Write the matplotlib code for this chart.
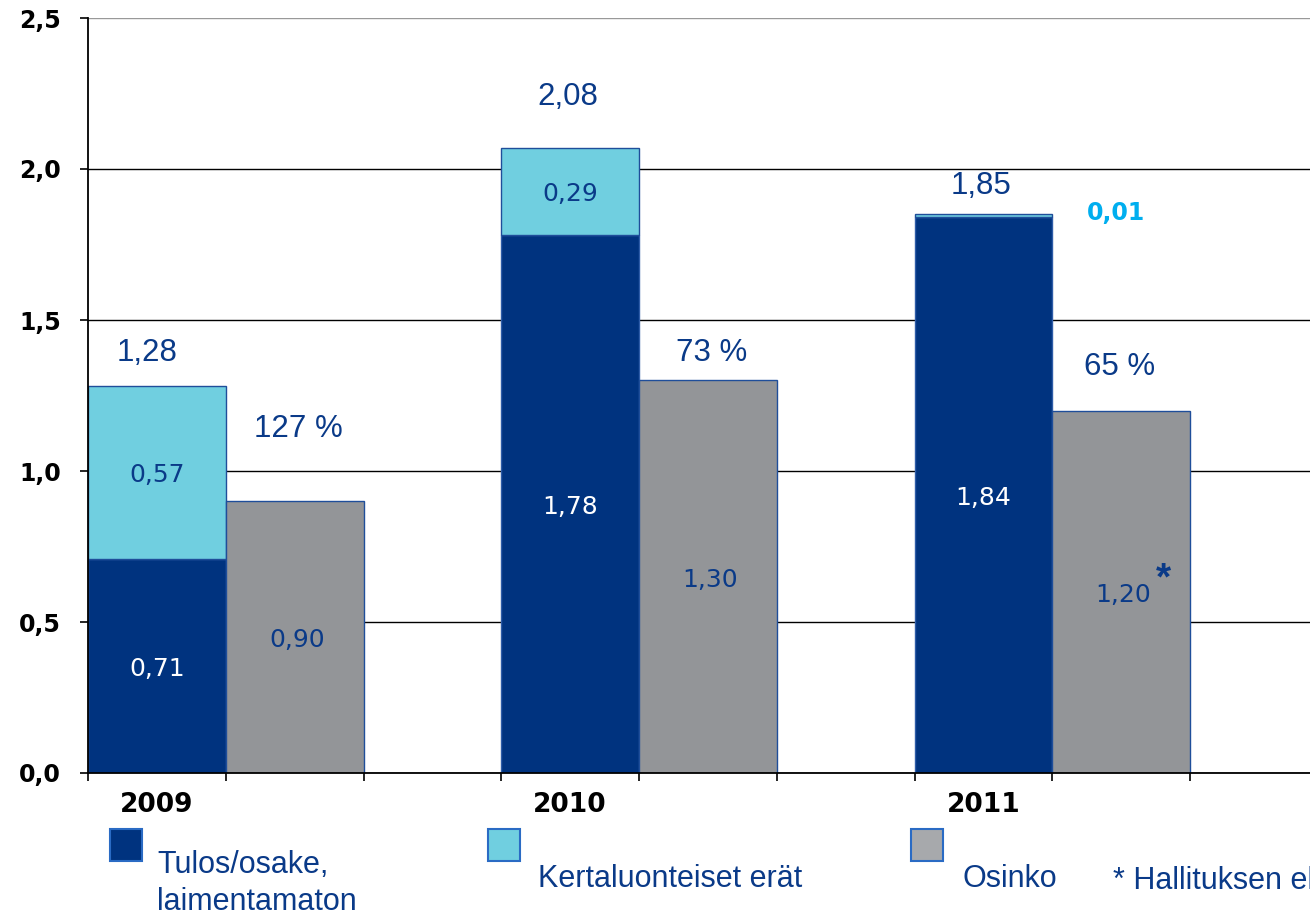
import matplotlib
matplotlib.use("Agg")
import matplotlib.pyplot as plt
from matplotlib.patches import Rectangle

# ---------------- data ----------------
years = ["2009", "2010", "2011"]
eps_diluted = [0.71, 1.78, 1.84]          # Tulos/osake, laimentamaton
one_off = [0.57, 0.29, 0.01]              # Kertaluonteiset erät
dividend = [0.90, 1.30, 1.20]             # Osinko
eps_total_labels = ["1,28", "2,08", "1,85"]
payout_labels = ["127 %", "73 %", "65 %"]
dividend_note = [False, False, True]      # '*' = board proposal
y_ticks = [0.0, 0.5, 1.0, 1.5, 2.0, 2.5]
y_tick_labels = ["0,0", "0,5", "1,0", "1,5", "2,0", "2,5"]
legend_labels = ["Tulos/osake,\nlaimentamaton", "Kertaluonteiset erät", "Osinko"]
footnote = "* Hallituksen ehdotus"

# ---------------- style ----------------
C_DARK = "#00337F"
C_LIGHT = "#70CFE0"
C_GREY = "#939598"
C_TXT = "#0A3A88"
C_CYAN = "#00AEEF"
SANS = "Liberation Sans"
WIDE = "DejaVu Sans"

def fmt(v):
    return f"{v:.2f}".replace(".", ",")

W, H = 1310, 916
fig = plt.figure(figsize=(W / 100, H / 100), dpi=100)
ax = fig.add_axes([88 / W, 1 - 773 / H, (W - 88) / W, (773 - 18) / H])
unit = 137.75
ax.set_xlim(0, (W - 88) / unit)
ax.set_ylim(0, 2.5)

# grid
ax.set_axisbelow(True)
ax.set_yticks(y_ticks)
ax.set_yticklabels(y_tick_labels, fontfamily=WIDE, fontweight="bold", fontsize=17)
ax.yaxis.grid(True, color="black", lw=1.0)
gl = ax.yaxis.get_gridlines()
gl[-1].set_color("#999999")

for s in ["top", "right"]:
    ax.spines[s].set_visible(False)
ax.spines["left"].set_linewidth(1.3)
ax.spines["bottom"].set_linewidth(1.3)
ax.tick_params(axis="y", direction="out", length=5.5, width=1.2, pad=14)
ax.set_xticks(range(0, 9))
ax.set_xticklabels([])
ax.tick_params(axis="x", direction="out", length=5.5, width=1.2)

# bars
dark_x = [3 * i + 0.5 for i in range(len(years))]
grey_x = [3 * i + 1.5 for i in range(len(years))]
ax.bar(dark_x, eps_diluted, width=1.0, color=C_DARK, edgecolor="#2E5CA8", lw=1.0, zorder=2)
ax.bar(dark_x, one_off, bottom=eps_diluted, width=1.0, color=C_LIGHT, edgecolor="#1F4E9A", lw=1.0, zorder=2)
ax.bar(grey_x, dividend, width=1.0, color=C_GREY, edgecolor="#1F4E9A", lw=1.0, zorder=2)

# layout offsets for the top labels (x shift, y shift)
tot_off = [(-0.07, 0.11), (-0.02, 0.17), (-0.02, 0.095)]
pay_off = [(0.025, 0.24), (0.03, 0.09), (-0.01, 0.145)]

for i, yr in enumerate(years):
    xd, xg = dark_x[i], grey_x[i]
    top = eps_diluted[i] + one_off[i]
    # year label
    ax.text(xd, -0.105, yr, ha="center", va="center", fontfamily=WIDE,
            fontweight="bold", fontsize=19, color="black", clip_on=False)
    # inner labels
    ax.text(xd, eps_diluted[i] / 2 - 0.01, fmt(eps_diluted[i]), ha="center", va="center",
            fontfamily=WIDE, fontsize=18, color="white", zorder=3)
    if one_off[i] >= 0.1:
        ax.text(xd, eps_diluted[i] + one_off[i] / 2 - 0.008, fmt(one_off[i]), ha="center",
                va="center", fontfamily=WIDE, fontsize=18, color=C_TXT, zorder=3)
    else:
        ax.text(xd + 0.96, top + 0.005, fmt(one_off[i]), ha="center", va="center",
                fontfamily=WIDE, fontweight="bold", fontsize=17, color=C_CYAN, zorder=3)
    ax.text(xg + 0.015, dividend[i] / 2 - 0.01, fmt(dividend[i]), ha="center", va="center",
            fontfamily=WIDE, fontsize=18, color=C_TXT, zorder=3)
    if dividend_note[i]:
        ax.text(xg + 0.31, dividend[i] / 2 + 0.04, "*", ha="center", va="center",
                fontfamily=SANS, fontweight="bold", fontsize=28, color=C_TXT, zorder=3)
    # totals & payout
    ax.text(xd + tot_off[i][0], top + tot_off[i][1], eps_total_labels[i], ha="center",
            va="center", fontfamily=SANS, fontsize=22.5, color=C_TXT)
    ax.text(xg + pay_off[i][0], dividend[i] + pay_off[i][1], payout_labels[i], ha="center",
            va="center", fontfamily=SANS, fontsize=22.5, color=C_TXT)

# legend (custom, below axis)
def px(x, y):
    return x / W, 1 - y / H

sq = 32
for (x0, y0), col in zip([(110, 829), (488, 829), (911, 829)], [C_DARK, C_LIGHT, "#A7A9AC"]):
    fx, fy = px(x0, y0 + sq)
    fig.patches.append(Rectangle((fx, fy), sq / W, sq / H, transform=fig.transFigure,
                                 facecolor=col, edgecolor="#2A6BC4", lw=1.5))

lines = legend_labels[0].split("\n")
fig.text(*px(157, 873), lines[0], fontfamily=SANS, fontsize=22, color=C_TXT, va="baseline")
fig.text(*px(157, 910), lines[1], fontfamily=SANS, fontsize=22, color=C_TXT, va="baseline")
fig.text(*px(538, 887), legend_labels[1], fontfamily=SANS, fontsize=22, color=C_TXT, va="baseline")
fig.text(*px(962, 887), legend_labels[2], fontfamily=SANS, fontsize=22, color=C_TXT, va="baseline")
fig.text(*px(1113, 889), footnote, fontfamily=SANS, fontsize=22, color=C_TXT, va="baseline")

fig.savefig("out.png", dpi=100)
